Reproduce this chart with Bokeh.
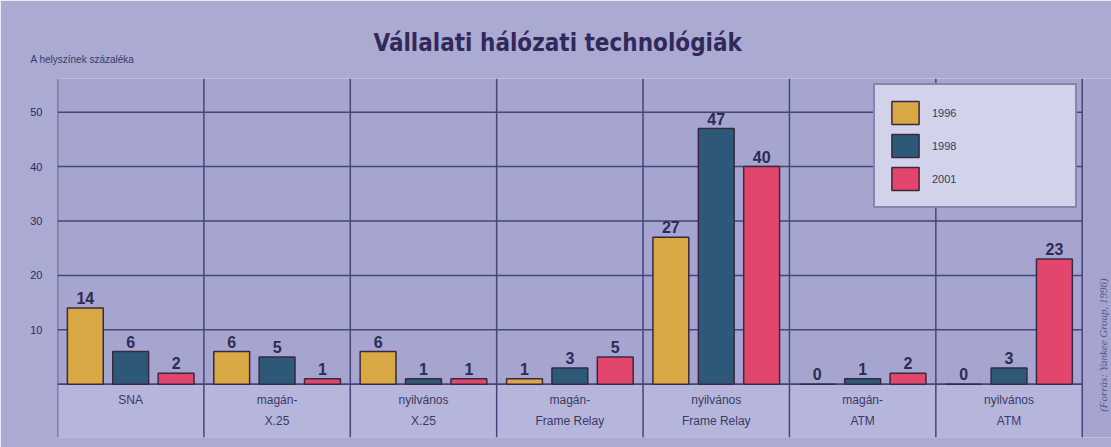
from bokeh.plotting import figure
from bokeh.models import (Range1d, FixedTicker, Span, BoxAnnotation,
                          Legend, LegendItem, ColumnDataSource, Title)
from bokeh.core.properties import value
from bokeh.embed import file_html
from bokeh.resources import INLINE
import math

# ---- data ----
categories = ["SNA", "magán-X.25", "nyilvános X.25", "magán-Frame Relay",
              "nyilvános Frame Relay", "magán-ATM", "nyilvános ATM"]
category_labels = ["SNA", "magán-\nX.25", "nyilvános\nX.25", "magán-\nFrame Relay",
                   "nyilvános\nFrame Relay", "magán-\nATM", "nyilvános\nATM"]
years = ["1996", "1998", "2001"]
v1996 = [14, 6, 6, 1, 27, 0, 0]
v1998 = [6, 5, 1, 3, 47, 1, 3]
v2001 = [2, 1, 1, 5, 40, 2, 23]
y_ticks = [10, 20, 30, 40, 50]
source_note = "(Forrás: Yankee Group, 1996)"

colors = ["#d8a844", "#2e5878", "#e2466c"]
offsets = [-0.31, 0.0, 0.31]

TXT = "#2c2c56"
LINE = "#45457a"
SANS = "Liberation Sans"
n = len(categories)
centers = [i + 0.5 for i in range(n)]

p = figure(width=1111, height=447, x_range=Range1d(0, 7.2),
           y_range=Range1d(-9.8, 56.2), output_backend="svg", toolbar_location=None,
           min_border_left=57, min_border_right=0, min_border_top=78, min_border_bottom=10)
p.background_fill_color = "#a5a5d0"
p.border_fill_color = "#aaaad3"
p.outline_line_color = None

p.title = Title(text="Vállalati hálózati technológiák", align="left", offset=316,
                text_font="'DejaVu Sans Condensed', 'DejaVu Sans', sans-serif",
                text_font_size="24px", text_font_style="bold",
                text_color="#33285a", standoff=-37)
p.add_layout(Title(text="A helyszínek százaléka", align="left", offset=-27,
                   text_font=SANS, text_font_size="10px", text_font_style="normal",
                   text_color="#3a3a62", standoff=27), "above")

# axes
p.xaxis.visible = False
p.yaxis.ticker = FixedTicker(ticks=y_ticks)
p.yaxis.axis_line_color = None
p.yaxis.major_tick_line_color = None
p.yaxis.minor_tick_line_color = None
p.yaxis.major_label_text_font = SANS
p.yaxis.major_label_text_font_size = "11px"
p.yaxis.major_label_text_color = TXT
p.yaxis.major_label_standoff = 9

p.xgrid.visible = False
p.ygrid.visible = False
# horizontal grid lines across the category area only
p.segment(x0=[0] * len(y_ticks), x1=[n] * len(y_ticks), y0=y_ticks, y1=y_ticks,
          line_color=LINE, line_width=1.5, level="underlay")

# label band below baseline
p.add_layout(BoxAnnotation(top=0, right=n, fill_color="#b6b6dd", fill_alpha=1.0,
                           line_color=None, level="underlay"))
p.segment(x0=[0], x1=[n], y0=[0], y1=[0], line_color=LINE, line_width=1.8)
for i in range(n + 1):
    p.add_layout(Span(location=i, dimension="height", line_color=LINE, line_width=1.5))

src = ColumnDataSource(dict(x=centers, labels=category_labels, ly=[-1.6] * n))

items = []
for yr, col, off, vals in zip(years, colors, offsets, [v1996, v1998, v2001]):
    xs = [c + off for c in centers]
    r = p.vbar(x=xs, top=vals, width=0.245,
               fill_color=col, line_color="#3a2840", line_width=1.5)
    items.append(LegendItem(label=yr, renderers=[r]))
    p.text(x=xs, y=vals, text=[str(v) for v in vals],
           text_align="center", text_baseline="bottom", y_offset=-4,
           text_font=value(SANS), text_font_style="bold",
           text_font_size="16px", text_color=TXT)

# category labels
p.text(x="x", y="ly", text="labels", source=src, text_align="center",
       text_baseline="top", text_font=value(SANS),
       text_font_size="12px", text_color="#3a3a62", text_line_height=1.5)

# source note, vertical at right
p.text(x=[n + 0.14], y=[7.2], text=[source_note], angle=math.pi / 2,
       text_align="center", text_baseline="middle",
       text_font=value("Liberation Serif"), text_font_style="italic",
       text_font_size="11px", text_color="#55558a")

legend = Legend(items=items, location=(816, 229), orientation="vertical",
                glyph_width=34, glyph_height=29, label_width=130, label_standoff=10,
                spacing=4, padding=13, margin=0,
                label_text_font=SANS, label_text_font_size="11px",
                label_text_color="#3a3a62",
                background_fill_color="#d2d2ea", background_fill_alpha=1.0,
                border_line_color="#3a3a6a", border_line_width=2)
p.add_layout(legend, "center")

open("out.html", "w").write(file_html(p, INLINE))
